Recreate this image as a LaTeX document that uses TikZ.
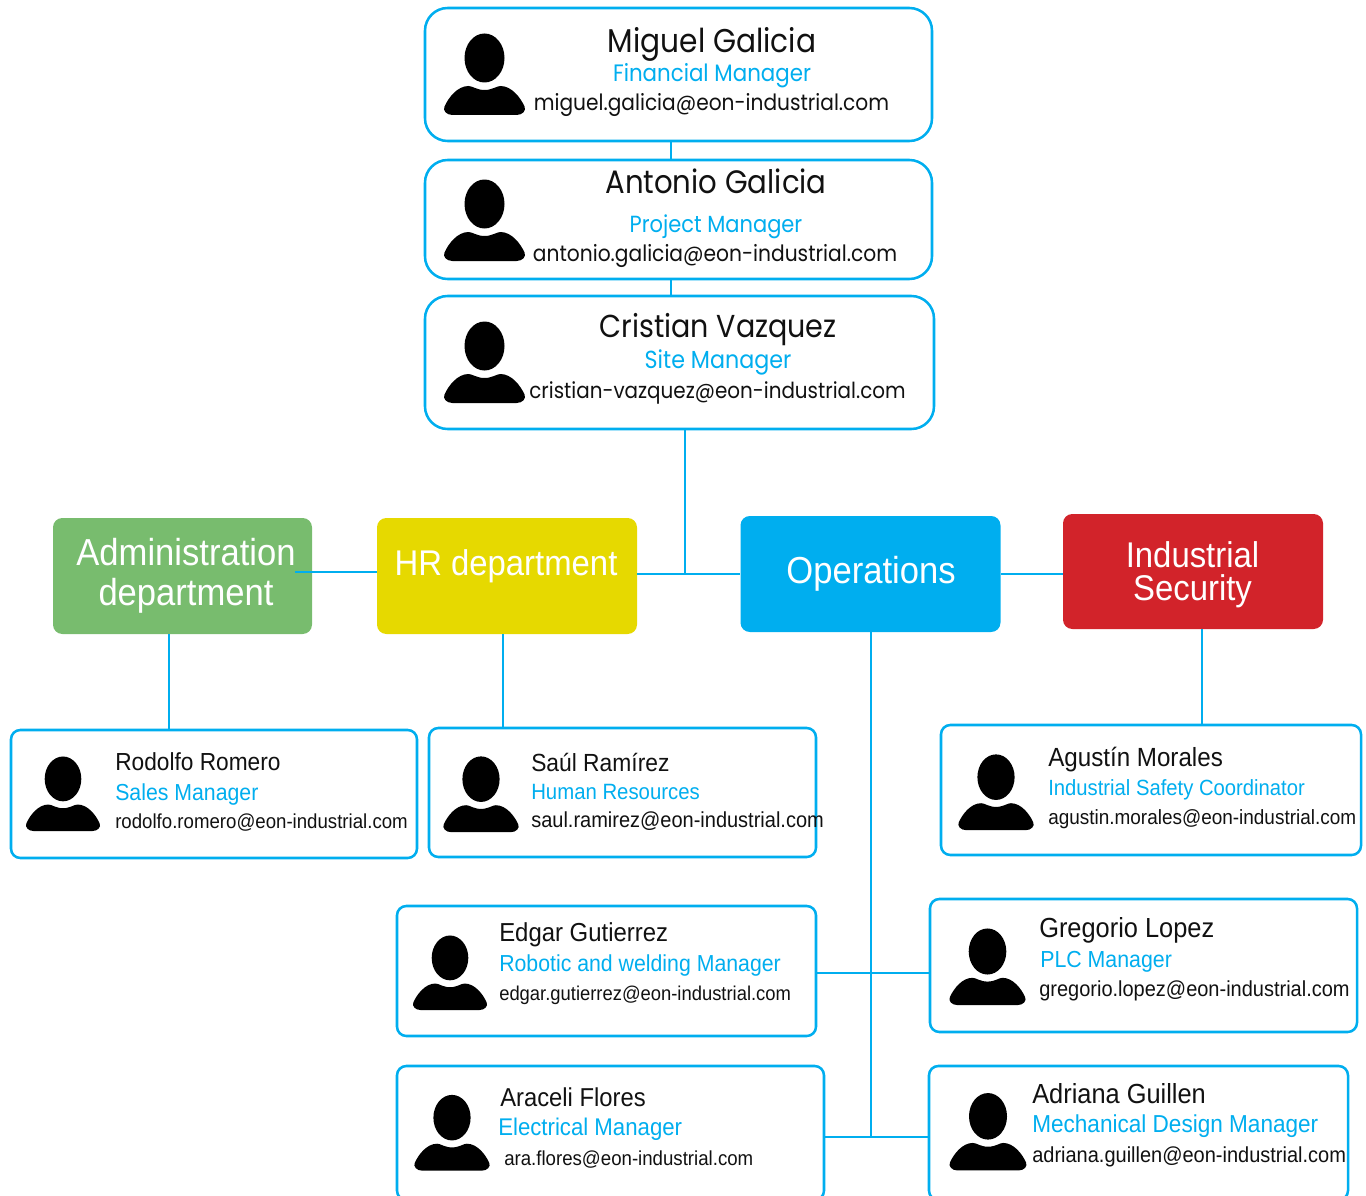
\documentclass[tikz,border=0pt]{standalone}
\usepackage{fontspec}
\setmainfont[FakeStretch=0.9]{Poppins}
\newfontfamily\armonarrow[FakeStretch=0.92]{Liberation Sans}
\usetikzlibrary{positioning, calc}

\definecolor{linkblue}{HTML}{00AEEF}
\definecolor{admingreen}{HTML}{78BC6E}
\definecolor{hryellow}{HTML}{E6D900}
\definecolor{safetyred}{HTML}{D2232A}
\definecolor{inkdark}{HTML}{111111}

\tikzset{
    sized/.style 2 args={minimum width=#1*0.75pt, minimum height=#2*0.75pt},
    card/.style={draw=linkblue, line width=1.9pt, fill=white, inner sep=0pt},
    bigcard/.style={card, rounded corners=17pt},
    smallcard/.style={card, rounded corners=7pt},
    dept/.style={rounded corners=7pt, inner sep=0pt},
    link/.style={draw=linkblue, line width=2.1pt},
    depttext/.style={text=white, inner sep=0pt, align=center, font=\armonarrow\fontsize{#1}{#1}\selectfont},
    toptext/.style={inner sep=0pt, anchor=base, text=inkdark, font=\fontsize{#1}{#1}\selectfont},
    toprole/.style={inner sep=0pt, anchor=base, text=linkblue, font=\fontsize{#1}{#1}\selectfont},
    lowtext/.style={inner sep=0pt, anchor=base west, text=inkdark, font=\armonarrow\fontsize{#1}{#1}\selectfont},
    lowrole/.style={inner sep=0pt, anchor=base west, text=linkblue, font=\armonarrow\fontsize{#1}{#1}\selectfont},
    pics/person/.style={code={
        \fill[black] (0,-16.5) ellipse [x radius=20, y radius=24.5];
        \fill[black] (-32,40.5) .. controls (-38,40.5) and (-42,36) .. (-40,32)
            .. controls (-36,23) and (-27,11.5) .. (-16,11.5)
            .. controls (-12,11.5) and (-8,15.5) .. (0,15.5)
            .. controls (8,15.5) and (12,11.5) .. (16,11.5)
            .. controls (27,11.5) and (36,23) .. (40,32)
            .. controls (42,36) and (38,40.5) .. (32,40.5) -- cycle;
    }}
}

\begin{document}
\begin{tikzpicture}[x=0.75pt, y=-0.75pt]
    \clip (0,0) rectangle (1366,1195);

    % top three cards
    \node[bigcard, sized={507}{133}] (miguel) at (678.5,74.5) {};
    \node[bigcard, sized={507}{119}] (antonio) at (678.5,219.5) {};
    \node[bigcard, sized={509}{133}] (cristian) at (679.5,362.5) {};

    % departments
    \node[dept, fill=admingreen, sized={259}{116}] (admin) at (182.5,576) {};
    \node[dept, fill=hryellow, sized={260}{116}] (hr) at (507,576) {};
    \node[dept, fill=linkblue, sized={260}{116}] (ops) at (870.5,574) {};
    \node[dept, fill=safetyred, sized={260}{115}] (safety) at (1193,571.5) {};

    % lower cards
    \node[smallcard, sized={406}{128}] (rodolfo) at (214,794) {};
    \node[smallcard, sized={387}{129}] (saul) at (622.5,792.5) {};
    \node[smallcard, sized={420}{130}] (agustin) at (1151,790) {};
    \node[smallcard, sized={419}{130}] (edgar) at (606.5,971) {};
    \node[smallcard, sized={427}{133}] (gregorio) at (1143.5,965.5) {};
    \node[smallcard, sized={427}{134}] (araceli) at (610.5,1133) {};
    \node[smallcard, sized={419}{134}] (adriana) at (1138.5,1133) {};

    % where the lines run
    \coordinate (topjoin) at (671,150);
    \coordinate (sitejoin) at (685,574);
    \coordinate (adminjoin) at (169,680);
    \coordinate (adminstart) at (295,572);
    \coordinate (hrjoin) at (503,680);
    \coordinate (safetyjoin) at (1202,680);
    \coordinate (opsrowa) at (870.5,973);
    \coordinate (opsrowb) at (870.5,1137);

    \draw[link] (miguel.south -| topjoin) -- (antonio.north -| topjoin);
    \draw[link] (antonio.south -| topjoin) -- (cristian.north -| topjoin);
    \draw[link] (cristian.south -| sitejoin) -- (sitejoin);
    \draw[link] (hr.east |- sitejoin) -- (ops.west |- sitejoin);
    \draw[link] (ops.east) -- (safety.west |- ops.east);
    \draw[link] (adminstart) -- (hr.west |- adminstart);
    \draw[link] (admin.south -| adminjoin) -- (rodolfo.north -| adminjoin);
    \draw[link] (hr.south -| hrjoin) -- (saul.north -| hrjoin);
    \draw[link] (safety.south -| safetyjoin) -- (agustin.north -| safetyjoin);
    \draw[link, line width=1.5pt] (ops.south) -- (opsrowb);
    \draw[link] (edgar.east |- opsrowa) -- (gregorio.west |- opsrowa);
    \draw[link] (araceli.east |- opsrowb) -- (adriana.west |- opsrowb);

    % faces
    \pic (facemiguel) at (484.5,74.5) {person};
    \pic (faceantonio) at (484.5,220.5) {person};
    \pic (facecristian) at (484.5,362.5) {person};
    \pic[scale=0.915] (facerodolfo) at (63,794) {person};
    \pic[scale=0.93] (facesaul) at (481,794.5) {person};
    \pic[scale=0.93] (faceagustin) at (996,792.5) {person};
    \pic[scale=0.915] (faceedgar) at (450,973) {person};
    \pic[scale=0.94] (facegregorio) at (987.5,967) {person};
    \pic[scale=0.93] (facearaceli) at (452,1133) {person};
    \pic[scale=0.95] (faceadriana) at (988,1132) {person};

    % department labels
    \node[depttext=28.2] (admintext) at (186,575.5) {Administration\\[2pt]department};
    \node[depttext=26.8] (hrtext) at (506,566) {HR department};
    \node[depttext=28.2] (opstext) at (871,574) {Operations};
    \node[depttext=26.8] (safetytext) at (1192.5,575) {Industrial\\[-2pt]Security};

    % top card texts
    \node[toptext=24.7] (miguelname) at (712,53) {Miguel Galicia};
    \node[toprole=17.8] (miguelrole) at (712,82) {Financial Manager};
    \node[toptext=16.8] (miguelmail) at (711.5,111) {miguel.galicia@eon-industrial.com};
    \node[toptext=24.3] (antonioname) at (716,194) {Antonio Galicia};
    \node[toprole=17.5] (antoniorole) at (716,232) {Project Manager};
    \node[toptext=16.85] (antoniomail) at (715,261) {antonio.galicia@eon-industrial.com};
    \node[toptext=23.8] (cristianname) at (718,337) {Cristian Vazquez};
    \node[toprole=18.5] (cristianrole) at (718,368) {Site Manager};
    \node[toptext=16.6] (cristianmail) at (717.5,398) {cristian-vazquez@eon-industrial.com};

    % lower card texts
    \node[lowtext=18.5] (rodolfoname) at (115,770) {Rodolfo Romero};
    \node[lowrole=17.35] (rodolforole) at (115,800) {Sales Manager};
    \node[lowtext=15.2] (rodolfomail) at (115,828) {rodolfo.romero@eon-industrial.com};
    \node[lowtext=18.6] (saulname) at (531,771) {Saúl Ramírez};
    \node[lowrole=16.6] (saulrole) at (531,799) {Human Resources};
    \node[lowtext=16.3] (saulmail) at (531,827) {saul.ramirez@eon-industrial.com};
    \node[lowtext=19.7] (agustinname) at (1048,766) {Agustín Morales};
    \node[lowrole=16.5] (agustinrole) at (1048,795) {Industrial Safety Coordinator};
    \node[lowtext=15.45] (agustinmail) at (1048,824) {agustin.morales@eon-industrial.com};
    \node[lowtext=19.5] (edgarname) at (499,941) {Edgar Gutierrez};
    \node[lowrole=17.35] (edgarrole) at (499,971) {Robotic and welding Manager};
    \node[lowtext=15] (edgarmail) at (499,1000) {edgar.gutierrez@eon-industrial.com};
    \node[lowtext=20.7] (gregorioname) at (1039,937) {Gregorio Lopez};
    \node[lowrole=17.4] (gregoriorole) at (1040,967) {PLC Manager};
    \node[lowtext=16.3] (gregoriomail) at (1039,996) {gregorio.lopez@eon-industrial.com};
    \node[lowtext=19.4] (aracelname) at (500,1106) {Araceli Flores};
    \node[lowrole=18.1] (aracelrole) at (498,1135) {Electrical Manager};
    \node[lowtext=15.2] (aracelmail) at (504,1165) {ara.flores@eon-industrial.com};
    \node[lowtext=20.7] (adriananame) at (1032,1103) {Adriana Guillen};
    \node[lowrole=18.4] (adrianarole) at (1032,1132) {Mechanical Design Manager};
    \node[lowtext=16.3] (adrianamail) at (1032,1162) {adriana.guillen@eon-industrial.com};
\end{tikzpicture}
\end{document}
